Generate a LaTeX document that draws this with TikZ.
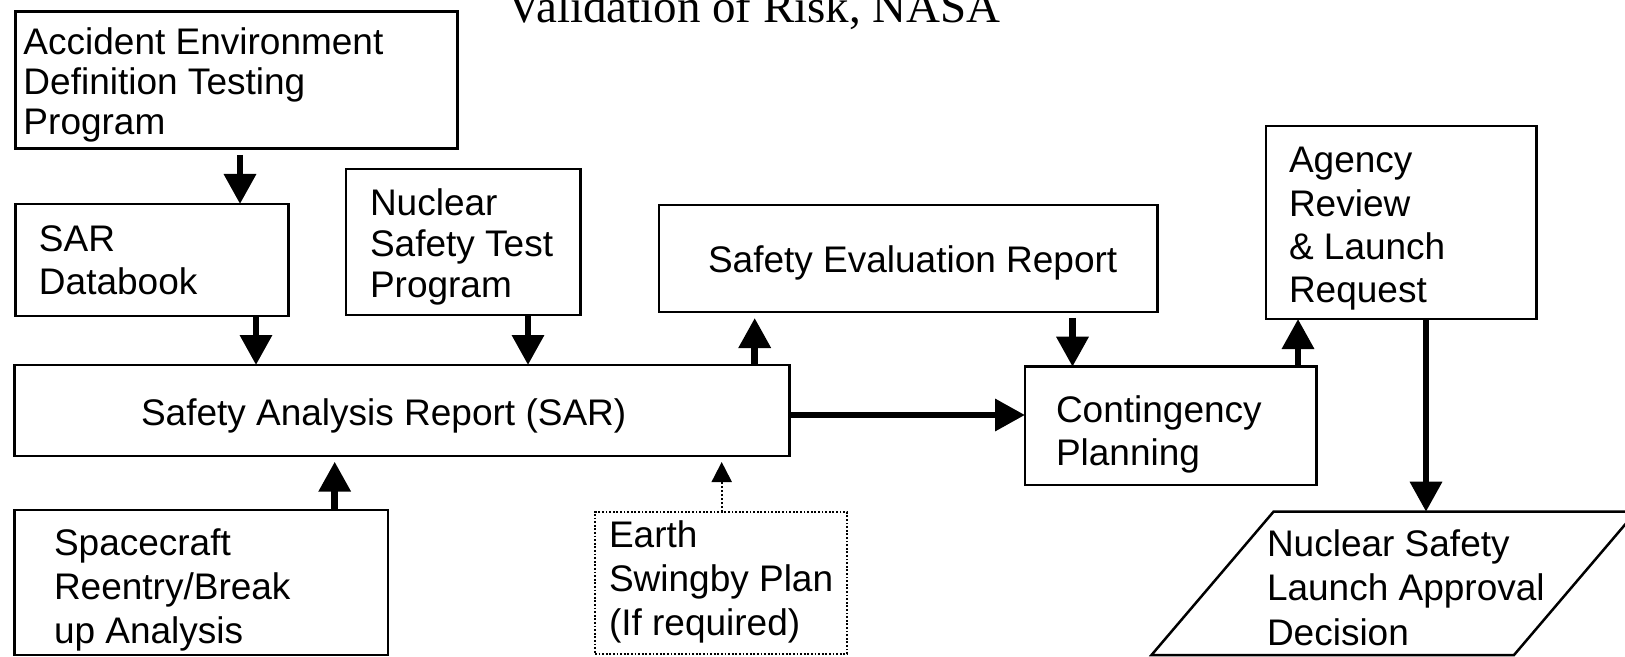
\documentclass[tikz,border=0pt]{standalone}
\usepackage{fontspec}
\setmainfont{Liberation Sans}
\newfontfamily\titlefont{Liberation Serif}
\usetikzlibrary{arrows.meta,fit}
\begin{document}
\begin{tikzpicture}[x=0.5pt,y=-0.5pt,
  box/.style={draw, line width=1.25pt, inner sep=0pt, outer sep=0pt},
  dbox/.style={draw, line width=0.9pt, dash pattern=on 0.9pt off 0.9pt, inner sep=0pt, outer sep=0pt},
  txt/.style={align=left, anchor=base west, inner sep=0pt, outer sep=0pt},
  fs/.style={font=\fontsize{18.5}{#1}\selectfont},
  arr/.style={line width=3.25pt, -{Triangle[width=15.5pt,length=15pt]}},
  darr/.style={line width=1pt, dash pattern=on 1pt off 1pt, -{Triangle[width=10pt,length=10pt]}}]
\useasboundingbox (0,0) rectangle (1625,657);
\fill[white] (0,0) rectangle (1625,657);

% title
\node[anchor=base west, inner sep=0pt, font=\titlefont\fontsize{23.5}{26}\selectfont] (title) at (507,23) {Validation of Risk, NASA};

% boxes (text nodes anchored at the baseline of their last line)
\node[box, fit={(15.7,11.7) (457.6,148.3)}] (acc) {};
\node[txt, fs=20pt] (acct) at (23.5,134.3) {Accident Environment\\Definition Testing\\Program};

\node[box, fit={(15.7,204) (288.7,316)}] (db) {};
\node[txt, fs=21.5pt] (dbt) at (39,295) {SAR\\Databook};

\node[box, fit={(346,169) (580.5,315)}] (nst) {};
\node[txt, fs=20.5pt] (nstt) at (370,298) {Nuclear\\Safety Test\\Program};

\node[box, fit={(658.8,205) (1157.5,312)}] (ser) {};
\node[txt, fs=20pt] (sert) at (708,273) {Safety Evaluation Report};

\node[box, fit={(1266,126) (1536.7,319)}] (ag) {};
\node[txt, fs=21.7pt] (agt) at (1289,303) {Agency\\Review\\\& Launch\\Request};

\node[box, fit={(14.6,365) (789.7,456)}] (sar) {};
\node[txt, fs=20pt] (sart) at (141,425) {Safety Analysis Report (SAR)};

\node[box, fit={(1025,366.7) (1316.7,485)}] (cont) {};
\node[txt, fs=21.5pt] (contt) at (1056,465) {Contingency\\Planning};

\node[box, fit={(14.6,510) (388,655)}] (sp) {};
\node[txt, fs=22pt] (spt) at (54,643) {Spacecraft\\Reentry/Break\\up Analysis};

\node[dbox, fit={(595,512) (847,654)}] (ea) {};
\node[txt, fs=22pt] (eat) at (609,635) {Earth\\Swingby Plan\\(If required)};

% parallelogram
\draw[line width=1.25pt, line join=miter] (1273.5,511.7) -- (1636,511.7) -- (1514,655) -- (1151.5,655) -- cycle;
\coordinate (paratop) at (1426,511.7);
\node[txt, fs=22.2pt] (parat) at (1267,645) {Nuclear Safety\\Launch Approval\\Decision};

% arrow columns / rows
\coordinate (cA) at (240,0);
\coordinate (cB) at (256,0);
\coordinate (cC) at (528,0);
\coordinate (cD) at (754.7,0);
\coordinate (cE) at (1072.5,0);
\coordinate (cF) at (1298,0);
\coordinate (cG) at (334.7,0);
\coordinate (cH) at (721.7,0);
\coordinate (rA) at (0,415);

% connectors
\draw[arr, shorten <=3.35pt] (acc.south -| cA) -- (db.north -| cA);
\draw[arr] (db.south -| cB) -- (sar.north -| cB);
\draw[arr] (nst.south -| cC) -- (sar.north -| cC);
\draw[arr, shorten >=3pt] (sar.north -| cD) -- (ser.south -| cD);
\draw[arr, shorten <=3pt] (ser.south -| cE) -- (cont.north -| cE);
\draw[arr] (cont.north -| cF) -- (ag.south -| cF);
\draw[arr] (ag.south -| paratop) -- (paratop);
\draw[arr, shorten >=2.85pt] (sp.north -| cG) -- (sar.south -| cG);
\draw[arr] (sar.east |- rA) -- (cont.west |- rA);
\draw[darr, shorten >=3pt] (ea.north -| cH) -- (sar.south -| cH);
\end{tikzpicture}
\end{document}
